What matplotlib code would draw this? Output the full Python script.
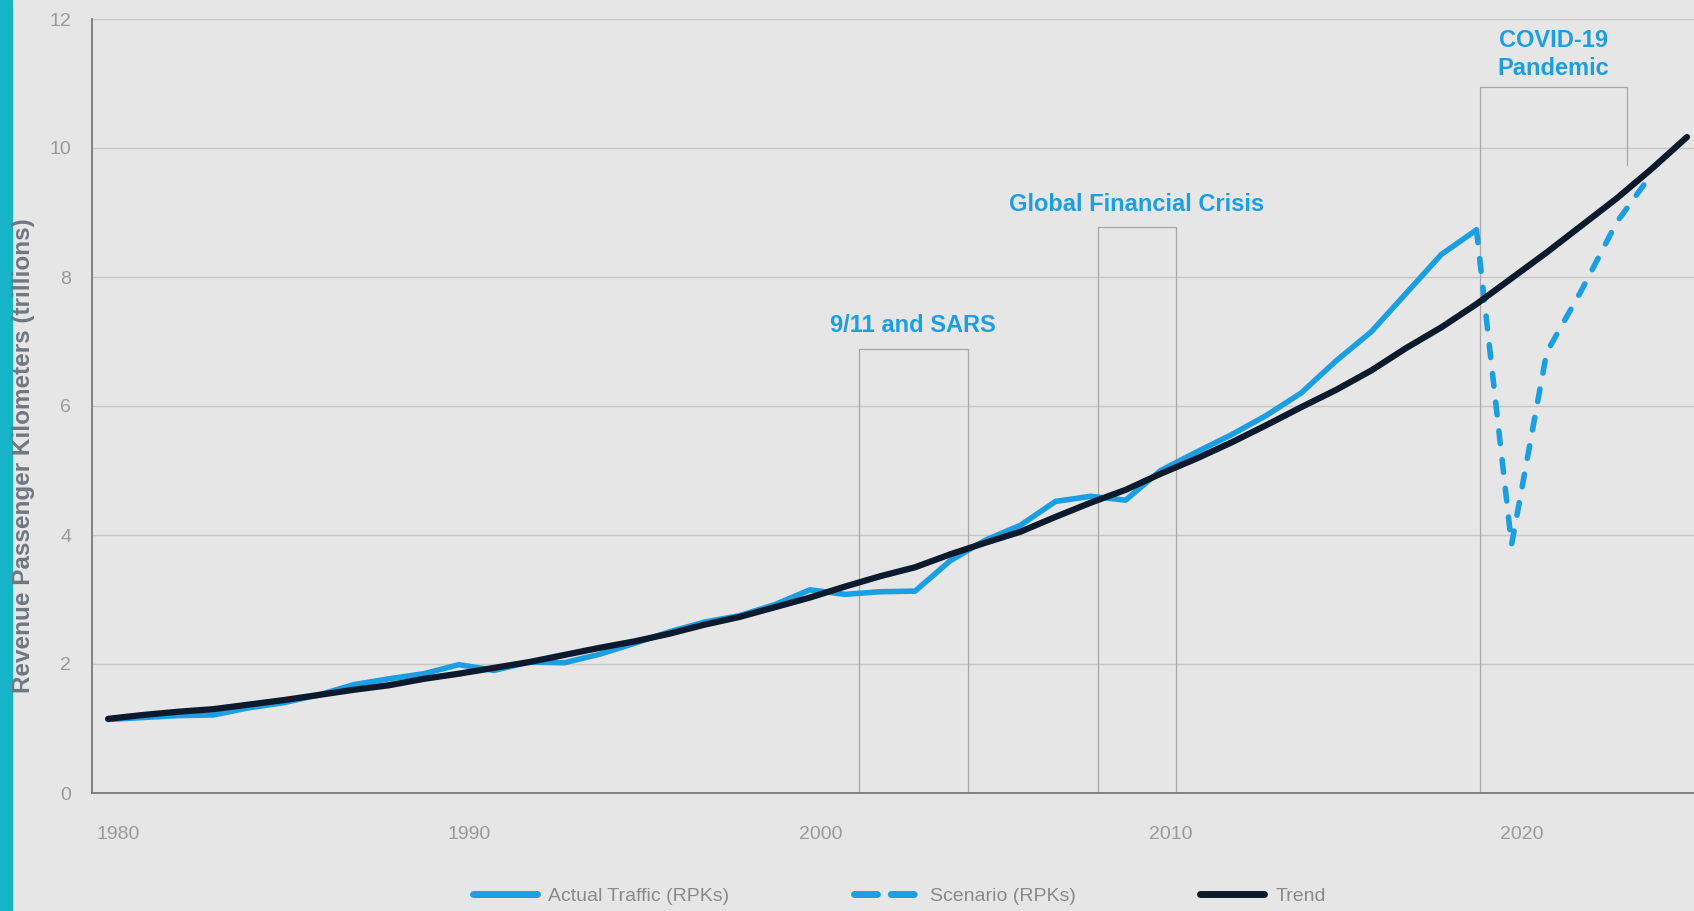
import matplotlib.pyplot as plt
from matplotlib.lines import Line2D

plt.rcParams['font.family'] = ['Liberation Sans', 'DejaVu Sans']

# data (trillions of RPKs)
actual_years = list(range(1980, 2020))
actual_rpk = [1.14, 1.17, 1.20, 1.21, 1.32, 1.40, 1.52, 1.68, 1.77, 1.85,
              1.99, 1.90, 2.03, 2.02, 2.15, 2.32, 2.50, 2.65, 2.75, 2.92,
              3.15, 3.08, 3.12, 3.13, 3.60, 3.92, 4.15, 4.52, 4.60, 4.54,
              5.00, 5.28, 5.55, 5.85, 6.20, 6.70, 7.15, 7.75, 8.35, 8.73]
scenario_years = [2019, 2020, 2021, 2022, 2023, 2024]
scenario_rpk = [8.73, 3.85, 6.83, 7.80, 8.85, 9.60]
trend_years = list(range(1980, 2026))
trend_rpk = [1.15, 1.21, 1.26, 1.30, 1.37, 1.44, 1.52, 1.60, 1.67, 1.77,
             1.85, 1.94, 2.03, 2.14, 2.25, 2.35, 2.47, 2.61, 2.73, 2.88,
             3.03, 3.20, 3.36, 3.50, 3.70, 3.88, 4.05, 4.28, 4.50, 4.70,
             4.95, 5.18, 5.43, 5.70, 5.98, 6.25, 6.55, 6.90, 7.22, 7.58,
             7.98, 8.38, 8.80, 9.22, 9.68, 10.17]

# event boxes
events = ['9/11 and SARS', 'Global Financial Crisis', 'COVID-19\nPandemic']
event_start = [2001.4, 2008.2, 2019.1]
event_end = [2004.5, 2010.45, 2023.3]
event_top = [6.88, 8.78, 10.94]
event_right_bottom = [0, 0, 9.74]
event_text_y = [7.25, 9.13, 11.45]

blue = '#1b9fe2'
navy = '#0b1a2c'
bg = '#e6e6e6'

fig = plt.figure(figsize=(16.94, 9.11), dpi=100, facecolor=bg)
ax = fig.add_axes([92/1694, 118/911, 1 - 92/1694, 774/911])
ax.set_facecolor(bg)

# teal strip on the left edge
fig.patches.append(plt.Rectangle((0, 0), 12/1694, 1, transform=fig.transFigure,
                                 color='#17b3c9', zorder=0))

for i, name in enumerate(events):
    x0, x1, top = event_start[i], event_end[i], event_top[i]
    ax.plot([x0, x0, x1, x1], [0, top, top, event_right_bottom[i]],
            color='#a8a8a8', lw=0.9, zorder=2)
    ax.text((x0 + x1) / 2, event_text_y[i], name, color=blue, fontsize=17,
            fontweight='bold', ha='center', va='center', linespacing=1.3)

ax.plot(scenario_years, scenario_rpk, color=blue, lw=4, ls=(0, (2.3, 2.9)),
        dash_capstyle='round', zorder=3)
ax.plot(actual_years, actual_rpk, color=blue, lw=4, zorder=4,
        solid_capstyle='round', solid_joinstyle='round')
ax.plot(trend_years, trend_rpk, color=navy, lw=4.5, zorder=5,
        solid_capstyle='round')

ax.set_xlim(1979.54, 2025.2)
ax.set_ylim(0, 12)
ax.set_yticks(range(0, 13, 2))
ax.set_xticks([1980.3, 1990.3, 2000.3, 2010.3, 2020.3])
ax.set_xticklabels(['1980', '1990', '2000', '2010', '2020'])
ax.grid(axis='y', color='#c6c6c6', lw=1)
ax.set_axisbelow(True)
ax.tick_params(axis='both', length=0, labelsize=14, labelcolor='#9a9a9a')
ax.tick_params(axis='x', pad=24)
ax.tick_params(axis='y', pad=15)
for s in ['top', 'right']:
    ax.spines[s].set_visible(False)
for s in ['left', 'bottom']:
    ax.spines[s].set_color('#7a7a7a')
    ax.spines[s].set_linewidth(1.3)

fig.text(24/1694, 0.50, 'Revenue Passenger Kilometers (trillions)', rotation=90,
         ha='center', va='center', fontsize=17.5, fontweight='bold', color='#6f7780')

handles = [Line2D([], [], color=blue, lw=5, solid_capstyle='round'),
           Line2D([], [], color=blue, lw=5, ls=(0, (3.3, 2.0)), dash_capstyle='round'),
           Line2D([], [], color=navy, lw=5, solid_capstyle='round')]
labels = ['Actual Traffic (RPKs)', 'Scenario (RPKs)', 'Trend']
leg = fig.legend(handles, labels, loc='center', bbox_to_anchor=(0.531, 0.016),
                 ncol=3, frameon=False, fontsize=14, handlelength=3.3,
                 handletextpad=0.6, columnspacing=6.4)
for t in leg.get_texts():
    t.set_color('#8a8a8a')

fig.savefig('out.png', dpi=100, facecolor=bg)
